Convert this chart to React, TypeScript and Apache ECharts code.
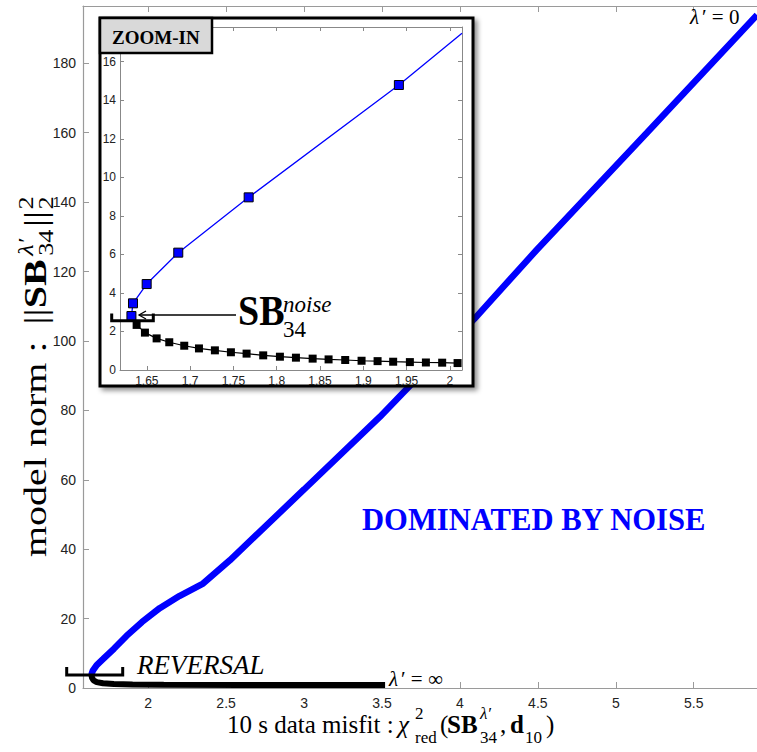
import React, { useEffect, useRef } from "react";
import * as echarts from "echarts";

// ---------- data ----------
const mainBlueX = [1.636, 1.645, 1.67, 1.71, 1.78, 1.861, 1.96, 2.074, 2.2, 2.352, 2.524, 3.0, 3.486, 4.096, 4.492, 5.2, 5.906];
const mainBlueY = [3.8, 5.0, 6.6, 8.3, 11.3, 15.0, 19.0, 23.0, 26.5, 30.1, 36.8, 57.2, 78.1, 106.5, 126.2, 160.0, 193.9];

const mainBlackX = [1.636, 1.64, 1.65, 1.67, 1.71, 1.78, 1.9, 2.1, 2.6, 3.0, 3.52];
const mainBlackY = [3.8, 2.9, 2.2, 1.7, 1.35, 1.15, 1.0, 0.95, 0.9, 0.9, 0.9];

const insetBlueX = [1.6322, 1.634, 1.6498, 1.6863, 1.7676, 1.9411, 2.014];
const insetBlueY = [2.8, 3.46, 4.46, 6.09, 8.96, 14.79, 17.47];

const insetBlackX = [1.6322, 1.6382, 1.6478, 1.6613, 1.6759, 1.6932, 1.7102, 1.7286, 1.7471, 1.7652, 1.7844, 1.8037, 1.8222, 1.8415, 1.8599, 1.8791, 1.898, 1.9165, 1.9345, 1.9538, 1.9723, 1.9911, 2.0089];
const insetBlackY = [2.8, 2.34, 1.94, 1.64, 1.44, 1.26, 1.12, 1.02, 0.92, 0.85, 0.76, 0.69, 0.64, 0.59, 0.55, 0.52, 0.48, 0.46, 0.43, 0.41, 0.39, 0.38, 0.36];

const mainXRange = [1.582, 5.906];
const mainYRange = [0, 196.5];
const insetXRange = [1.619, 2.014];
const insetYRange = [0, 17.8];

const SERIF = '"Liberation Serif", "Times New Roman", serif';
const SANS = '"Liberation Sans", Arial, Helvetica, sans-serif';

const zip = (xs: number[], ys: number[]) => xs.map((x, i) => [x, ys[i]]);

const isMultiple = (v: number, step: number) => {
  const r = v / step;
  return Math.abs(r - Math.round(r)) < 1e-6;
};
const stepFormatter = (step: number) => (v: number) =>
  isMultiple(v, step) ? String(Number(v.toFixed(3))) : "";

type TOpts = {
  size?: number;
  weight?: string;
  style?: string;
  fill?: string;
  family?: string;
  z?: number;
  scaleX?: number;
  scaleY?: number;
};
const txt = (x: number, y: number, text: string, o: TOpts = {}) => ({
  type: "text",
  x,
  y,
  z: o.z ?? 60,
  scaleX: o.scaleX ?? 1,
  scaleY: o.scaleY ?? 1,
  silent: true,
  style: {
    text,
    fontSize: o.size ?? 20,
    fontFamily: o.family ?? SERIF,
    fontWeight: o.weight ?? "normal",
    fontStyle: o.style ?? "normal",
    fill: o.fill ?? "#000",
    align: "left",
    verticalAlign: "middle",
    textAlign: "left",
    textVerticalAlign: "middle",
  },
});

export default function App() {
  const ref = useRef<HTMLDivElement>(null);

  useEffect(() => {
    if (!ref.current) return;
    const chart = echarts.init(ref.current, undefined, { renderer: "svg" });

    const axisGrey = "#9a9a9a";
    const mainTick = { show: true, inside: true, length: 6, lineStyle: { color: axisGrey } };
    const insetTick = { show: true, inside: true, length: 4, lineStyle: { color: "#888" } };
    const c = (f: number) => -0.33 * f;

    // y-axis title (rotated, reading bottom to top)
    const F = 32;
    const s = 21;
    const yTitle = {
      type: "group",
      x: 46,
      y: 557,
      rotation: Math.PI / 2,
      scaleX: 1.25,
      z: 60,
      children: [
        txt(0, c(F), "model norm :", { size: F }),
        txt(186, c(F), "||", { size: F }),
        txt(199, c(F), "SB", { size: F, weight: "bold" }),
        txt(241, c(s) - 13, "λ′", { size: s, style: "italic" }),
        txt(241, c(s) + 7, "34", { size: s }),
        txt(264, c(F), "||", { size: F }),
        txt(278, c(s) - 13, "2", { size: s }),
        txt(278, c(s) + 7, "2", { size: s }),
      ],
    };

    // x-axis title
    const XB = 733;
    const XF = 25;
    const xs = 17;
    const sup = XB + c(xs) - 14;
    const sub = XB + c(xs) + 10;
    const xTitle = [
      txt(227, XB + c(XF), "10 s data misfit :", { size: XF }),
      txt(398, XB + c(XF), "χ", { size: XF, style: "italic" }),
      txt(415, sup, "2", { size: xs }),
      txt(415, sub, "red", { size: xs }),
      txt(440, XB + c(XF), "(", { size: XF }),
      txt(447, XB + c(XF), "SB", { size: XF, weight: "bold" }),
      txt(480, sup, "λ′", { size: xs, style: "italic" }),
      txt(480, sub, "34", { size: xs }),
      txt(500, XB + c(XF), ",", { size: XF }),
      txt(510, XB + c(XF), "d", { size: XF, weight: "bold" }),
      txt(525, sub, "10", { size: xs }),
      txt(546, XB + c(XF), ")", { size: XF }),
    ];

    const option: any = {
      animation: false,
      backgroundColor: "#fff",
      grid: [
        { left: 83, top: 6, right: 0, bottom: 64 },
        { left: 120, top: 27, width: 342, height: 343 },
      ],
      xAxis: [
        {
          type: "value",
          gridIndex: 0,
          position: "bottom",
          min: mainXRange[0],
          max: mainXRange[1],
          splitNumber: 8,
          axisLine: { show: true, onZero: false, lineStyle: { color: axisGrey, width: 1.2 } },
          axisTick: mainTick,
          splitLine: { show: false },
          axisLabel: {
            formatter: stepFormatter(0.5),
            fontFamily: SANS,
            fontSize: 14,
            color: "#222",
            margin: 8,
            showMinLabel: false,
            showMaxLabel: false,
          },
        },
        {
          type: "value",
          gridIndex: 0,
          position: "top",
          min: mainXRange[0],
          max: mainXRange[1],
          splitNumber: 8,
          axisLine: { show: true, onZero: false, lineStyle: { color: axisGrey, width: 1.2 } },
          axisTick: mainTick,
          splitLine: { show: false },
          axisLabel: { show: false },
        },
        {
          type: "value",
          gridIndex: 1,
          position: "bottom",
          z: 30,
          min: insetXRange[0],
          max: insetXRange[1],
          splitNumber: 8,
          axisLine: { show: true, onZero: false, lineStyle: { color: "#888" } },
          axisTick: insetTick,
          splitLine: { show: false },
          axisLabel: {
            formatter: stepFormatter(0.05),
            fontFamily: SANS,
            fontSize: 12,
            color: "#222",
            margin: 5,
            showMinLabel: false,
            showMaxLabel: false,
          },
        },
        {
          type: "value",
          gridIndex: 1,
          position: "top",
          z: 30,
          min: insetXRange[0],
          max: insetXRange[1],
          splitNumber: 8,
          axisLine: { show: true, onZero: false, lineStyle: { color: "#888" } },
          axisTick: insetTick,
          splitLine: { show: false },
          axisLabel: { show: false },
        },
      ],
      yAxis: [
        {
          type: "value",
          gridIndex: 0,
          position: "left",
          min: mainYRange[0],
          max: mainYRange[1],
          splitNumber: 10,
          axisLine: { show: true, onZero: false, lineStyle: { color: axisGrey, width: 1.2 } },
          axisTick: mainTick,
          splitLine: { show: false },
          axisLabel: {
            formatter: stepFormatter(20),
            fontFamily: SANS,
            fontSize: 14,
            color: "#222",
            margin: 7,
            showMaxLabel: false,
          },
        },
        {
          type: "value",
          gridIndex: 1,
          position: "left",
          z: 30,
          min: insetYRange[0],
          max: insetYRange[1],
          splitNumber: 9,
          axisLine: { show: true, onZero: false, lineStyle: { color: "#888" } },
          axisTick: insetTick,
          splitLine: { show: false },
          axisLabel: {
            formatter: stepFormatter(2),
            fontFamily: SANS,
            fontSize: 12,
            color: "#222",
            margin: 4,
            showMaxLabel: false,
          },
        },
        {
          type: "value",
          gridIndex: 1,
          position: "right",
          z: 30,
          min: insetYRange[0],
          max: insetYRange[1],
          splitNumber: 9,
          axisLine: { show: true, onZero: false, lineStyle: { color: "#888" } },
          axisTick: insetTick,
          splitLine: { show: false },
          axisLabel: { show: false },
        },
      ],
      series: [
        {
          type: "line",
          xAxisIndex: 0,
          yAxisIndex: 0,
          data: zip(mainBlueX, mainBlueY),
          showSymbol: false,
          symbol: "none",
          lineStyle: { color: "#0000ff", width: 6.5 },
          z: 2,
        },
        {
          type: "line",
          xAxisIndex: 0,
          yAxisIndex: 0,
          data: zip(mainBlackX, mainBlackY),
          showSymbol: false,
          symbol: "none",
          lineStyle: { color: "#000", width: 6 },
          z: 3,
        },
        {
          type: "line",
          xAxisIndex: 2,
          yAxisIndex: 1,
          data: zip(insetBlackX, insetBlackY),
          symbol: "rect",
          symbolSize: 8,
          itemStyle: { color: "#000", borderColor: "#000", borderWidth: 0 },
          lineStyle: { color: "#000", width: 1.2 },
          z: 32,
        },
        {
          type: "line",
          xAxisIndex: 2,
          yAxisIndex: 1,
          data: zip(insetBlueX, insetBlueY).map((p, i, arr) =>
            i === arr.length - 1 ? { value: p, symbolSize: 0 } : p
          ),
          symbol: "rect",
          symbolSize: 9,
          itemStyle: { color: "#0000ff", borderColor: "#000", borderWidth: 1 },
          lineStyle: { color: "#0000ff", width: 1.3 },
          z: 33,
        },
      ],
      graphic: [
        // inset frame
        {
          type: "rect",
          z: 20,
          silent: true,
          shape: { x: 100, y: 18, width: 373, height: 368 },
          style: {
            fill: "#fff",
            stroke: "#000",
            lineWidth: 3,
            shadowBlur: 5,
            shadowOffsetX: 3,
            shadowOffsetY: 3,
            shadowColor: "rgba(0,0,0,0.45)",
          },
        },
        {
          type: "rect",
          z: 45,
          silent: true,
          shape: { x: 100, y: 18, width: 112, height: 35 },
          style: { fill: "#d9d9d9", stroke: "#000", lineWidth: 2.5 },
        },
        txt(112, 37, "ZOOM-IN", { size: 19, weight: "bold", z: 46 }),
        // inset bracket + arrow + label
        {
          type: "polyline",
          z: 50,
          silent: true,
          shape: { points: [[111.7, 313.5], [111.7, 320.7], [153.3, 320.7], [153.3, 313.5]] },
          style: { stroke: "#000", lineWidth: 3, fill: null },
        },
        {
          type: "line",
          z: 50,
          silent: true,
          shape: { x1: 236, y1: 315, x2: 139, y2: 315 },
          style: { stroke: "#000", lineWidth: 1.3 },
        },
        {
          type: "polyline",
          z: 50,
          silent: true,
          shape: { points: [[146, 311], [139, 315], [146, 319]] },
          style: { stroke: "#000", lineWidth: 1.3, fill: null },
        },
        txt(238, 311, "SB", { size: 38, weight: "bold", scaleY: 1.1 }),
        txt(283, 304, "noise", { size: 23, style: "italic" }),
        txt(283, 329, "34", { size: 23 }),
        // main annotations
        {
          type: "polyline",
          z: 50,
          silent: true,
          shape: { points: [[66.7, 667], [66.7, 675], [122.7, 675], [122.7, 667]] },
          style: { stroke: "#000", lineWidth: 3, fill: null },
        },
        txt(137, 665, "REVERSAL", { size: 27, style: "italic" }),
        txt(389, 679, "λ", { size: 21, style: "italic" }),
        txt(401, 679, "′ = ∞", { size: 21 }),
        txt(690, 17, "λ", { size: 21, style: "italic" }),
        txt(702, 17, "′ = 0", { size: 21 }),
        txt(362, 520, "DOMINATED BY NOISE", { size: 30.6, weight: "bold", fill: "#0000ff" }),
        yTitle,
        ...xTitle,
      ],
    };

    chart.setOption(option);
    return () => chart.dispose();
  }, []);

  return (
    <div
      ref={ref}
      style={{ position: "absolute", left: 0, top: 0, width: 757, height: 752, background: "#fff" }}
    />
  );
}
